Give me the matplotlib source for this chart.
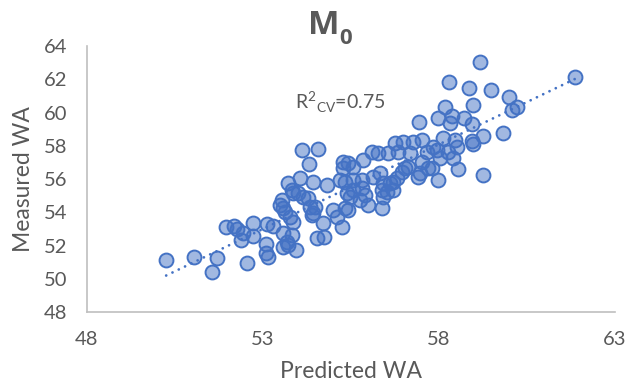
import matplotlib
matplotlib.use("Agg")
import matplotlib.pyplot as plt
import numpy as np

# Predicted vs measured WA
predicted = [
    50.26, 51.05, 51.57, 51.71, 52.56, 51.96, 52.19, 52.28, 52.39, 52.45,
    52.73, 52.73, 53.10, 53.10, 53.16, 53.13, 53.30, 53.58, 53.84, 53.72,
    53.95, 53.87, 53.50, 53.58, 53.64, 53.55, 53.72, 53.84, 54.07, 54.12,
    54.58, 54.32, 53.87, 53.78, 54.15, 54.29, 54.43, 54.49, 54.43, 54.72,
    54.55, 54.75, 54.83, 55.00, 55.12, 55.26, 55.29, 55.20, 55.34, 55.40,
    55.49, 55.43, 55.34, 55.43, 55.57, 55.86, 55.83, 54.01, 54.35, 54.41,
    53.58, 53.70, 55.57, 55.83, 55.91, 55.77, 56.00, 56.14, 56.34, 56.42,
    56.39, 56.54, 56.42, 56.39, 56.62, 56.71, 55.57, 56.11, 56.28, 56.57,
    56.76, 56.99, 57.28, 57.53, 57.19, 56.85, 57.67, 57.84, 57.96, 58.13,
    58.47, 58.53, 58.27, 58.41, 58.04, 57.70, 57.47, 57.42, 57.05, 56.96,
    56.82, 56.71, 57.99, 58.55, 59.26, 58.30, 58.87, 59.49, 58.98, 58.18,
    57.45, 57.99, 58.38, 58.33, 58.72, 58.95, 58.95, 59.26, 59.18, 61.88,
    60.00, 60.09, 60.23, 59.83, 57.82, 57.13, 57.53, 55.29, 58.98,
]
measured = [
    51.13, 51.31, 50.41, 51.25, 50.95, 53.12, 53.18, 53.00, 52.33, 52.76,
    53.36, 52.57, 52.09, 51.55, 51.31, 53.30, 53.18, 52.76, 52.64, 52.03,
    51.73, 53.42, 54.44, 54.26, 54.02, 54.74, 55.76, 55.34, 56.06, 57.75,
    57.81, 56.90, 55.16, 53.72, 54.92, 54.86, 55.82, 54.32, 53.96, 53.36,
    52.45, 52.51, 55.64, 54.14, 53.72, 53.12, 57.02, 55.94, 55.82, 55.16,
    54.92, 54.14, 54.26, 56.96, 56.72, 57.14, 55.94, 55.16, 54.32, 53.84,
    51.91, 52.21, 55.34, 55.46, 55.04, 54.74, 54.44, 56.12, 56.36, 55.76,
    55.34, 55.22, 54.92, 54.26, 55.76, 55.34, 55.94, 57.63, 57.57, 57.57,
    58.17, 58.23, 58.23, 58.35, 57.57, 57.63, 57.63, 57.93, 57.75, 58.47,
    58.35, 57.93, 57.63, 57.27, 57.27, 56.66, 56.36, 56.12, 56.66, 56.42,
    56.06, 55.82, 55.94, 56.60, 56.24, 61.84, 61.47, 61.35, 60.45, 60.33,
    59.43, 59.67, 59.79, 59.37, 59.67, 59.31, 58.29, 58.59, 63.04, 62.14,
    60.93, 60.15, 60.33, 58.77, 56.66, 56.72, 57.02, 56.66, 58.11,
]

title_main = "M"
title_sub = "0"
r2_label = r"R$^{2}$$_{\mathrm{CV}}$=0.75"
x_ticks = [48, 53, 58, 63]
y_ticks = [48, 50, 52, 54, 56, 58, 60, 62, 64]

plt.rcParams["font.family"] = ["Lato", "DejaVu Sans"]
plt.rcParams["mathtext.fontset"] = "custom"
plt.rcParams["mathtext.rm"] = "Lato"

text_color = "#595959"
blue = "#4472C4"

fig = plt.figure(figsize=(6.32, 3.90), dpi=100)
ax = fig.add_axes([0.137, 0.2, 0.836, 0.682])

ax.scatter(predicted, measured, s=100, facecolor=(0x44/255, 0x72/255, 0xC4/255, 0.5),
           edgecolor=blue, linewidth=1.4, zorder=3)

# linear trend line, drawn over the range of the data
slope, intercept = np.polyfit(predicted, measured, 1)
xs = np.array([min(predicted), max(predicted)])
ax.plot(xs, slope * xs + intercept, color=blue, linewidth=2.0,
        linestyle=(0, (0.01, 2.5)), dash_capstyle="round", zorder=2)

ax.text(53.92, 60.63, r2_label, fontsize=14, color=text_color, va="center", ha="left")

ax.set_xlim(48, 63)
ax.set_ylim(48, 64)
ax.set_xticks(x_ticks)
ax.set_yticks(y_ticks)
ax.tick_params(length=0, labelsize=14.5, labelcolor=text_color, pad=14)

for side in ["top", "right"]:
    ax.spines[side].set_visible(False)
for side in ["left", "bottom"]:
    ax.spines[side].set_color("#BFBFBF")
    ax.spines[side].set_linewidth(1.2)

ax.set_xlabel("Predicted WA", fontsize=16.5, color=text_color, labelpad=9)
ax.set_ylabel("Measured WA", fontsize=16.5, color=text_color, labelpad=7)

# title with a bold subscript, drawn as two pieces
fig.text(0.512, 0.935, title_main, fontsize=24, fontweight="bold",
         family="Open Sans", color=text_color, ha="center", va="center")
fig.text(0.537, 0.900, title_sub, fontsize=16, fontweight="bold",
         family="Open Sans", color=text_color, ha="left", va="center")

fig.savefig("out.png", dpi=100)
